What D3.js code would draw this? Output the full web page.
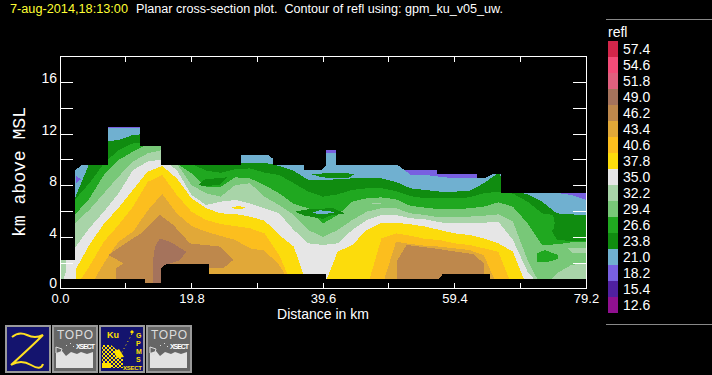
<!DOCTYPE html>
<html><head><meta charset="utf-8">
<script src="https://cdn.jsdelivr.net/npm/d3@7/dist/d3.min.js"></script>
<style>html,body{margin:0;padding:0;background:#000;overflow:hidden}svg{display:block}text{font-family:"Liberation Sans",Arial,sans-serif}</style>
</head><body><svg id="c" width="712" height="375"></svg>
<script>
// ---- Data: reflectivity contour tops (km) at regular stations along the section
const stationStepKm = 2.2;
const top_21_0 = [9,9.5,9.6,12.6,12.6,12.6,12.6,10,9.6,9.6,9.6,9.6,10.5,10.5,10.5,9.6,9.6,9.6,10.4,10.4,9.6,9.6,9.6,9.6,8.74,8.74,8.6,8.47,8.47,8.47,9,7.5,7.35,7.35,7.35,7.19,6.81];
const top_23_8 = [5,6.9,9.6,11.3,11.42,11.81,11.9,10,9.6,9.6,9.6,9.6,9.6,9.68,9.68,9.42,9.05,8.35,8.35,8.4,8.47,8.53,8.47,8.2,7.7,7.58,7.45,7.45,7.5,8.09,8.9,7.5,7.24,6.68,5.78,5.7,5.65];
const top_26_6 = [4,6.8,8.09,9.6,10.65,11.17,11.3,9.6,9.6,9.6,9.06,8.9,9.17,9.24,8.91,8.73,8.1,7.45,7.06,7.24,7.58,7.71,7.71,7.5,7.1,6.94,6.94,6.94,7.01,7.32,7.45,7.3,6.68,5.78,3.75,3.65,3.65];
const top_29_4 = [3,5.65,6.9,8.73,9.88,10.53,11.1,11.1,9.6,8.86,7.83,7.83,8.55,8.47,7.96,7.32,6.5,6.17,5.01,5.65,6.68,6.94,7.01,6.86,6.35,6.22,6.09,6.09,6.17,6.29,6.63,6.29,5.01,3.34,3.4,3.55,3.55];
const top_32_2 = [2.5,5.01,6.04,7.32,8.6,9.76,10.4,10.65,9.6,7.96,7.32,7.06,7.96,8.09,7.06,6.42,5.65,4.5,3.95,4.5,5.27,5.91,6.17,6.17,5.78,5.65,5.47,5.47,5.53,5.6,5.7,5.14,2.19,0,1.17,1.81,1.94];
const top_35_0 = [0,3.09,4.63,5.91,7.3,9.12,9.76,9.94,9.1,7.19,6.42,6.68,6.81,6.55,6.17,5.78,4.5,3.47,3.35,3.47,4.5,5.27,5.65,5.65,5.4,5.32,5.09,5.01,5.01,5.06,5.14,3.73,1.29,0,0,0,0];
const top_37_8 = [0,1.3,3.35,4.96,6.2,7.6,8.99,9.42,8.47,6.94,6.17,5.78,5.73,5.53,5.22,4.12,3.22,0,0,2.83,3.35,4.5,5.06,5.06,4.94,4.76,4.5,4.24,4.12,3.86,3.47,2.83,0,0,0,0,0];
const top_40_6 = [0,0,1.68,3.6,4.88,6.3,8.2,8.73,7.19,5.9,5.27,4.96,4.8,4.63,4.24,2.58,0,0,0,0,0,0,3.86,4.24,4.06,3.81,3.73,3.47,3.35,3.09,2.83,0,0,0,0,0,0];
const top_43_4 = [0,0,0,1.94,3.6,4.37,6.0,7.27,5.78,4.8,4.37,4.04,3.73,3.09,2.91,1.81,0,0,0,0,0,0,0,3.6,3.42,3.29,3.22,3.09,2.96,2.58,0,0,0,0,0,0,0];
// closed cells as [km, km above MSL]
const cell_18_2 = [
 [[51.93,0],[51.93,10],[62.77,10],[62.77,0]],
 [[74.96,0],[74.96,8],[79.2,8],[79.2,0]]];
const cell_46_2 = [
 [[7.28,2.58],[9.53,1.94],[8.43,1.55],[8.43,0],[22.43,0],[22.43,1.55],[24.59,1.55],[26.09,2.19],[24.08,3.22],[19.57,3.47],[17.06,4.88],[15.05,5.65],[12.54,4.37],[9.53,3.35]],
 [[50.68,0],[50.68,2.06],[52.19,3.35],[56.2,3.09],[62.2,2.65],[63.8,1.94],[63.8,0]]];
const cell_49_0 = [[[13.95,0],[13.95,1.94],[14.3,3.22],[15.05,3.86],[16.56,3.6],[19,2.83],[18.06,2.19],[15.9,1.81],[15.2,0]]];
const pockets = [
 ["35.0",[[0.9,0],[0.9,2.19],[2.4,2.19],[2.4,0]]],
 ["37.8",[[25.59,6.2],[26.84,6.35],[28.1,6.2],[26.84,6.1]]],
 ["23.8",[[35.37,5.91],[37.63,6.12],[41.14,6.17],[42.9,5.78],[40.64,5.6],[39.64,5.35],[36.88,5.6]]],
 ["21.0",[[38.03,5.83],[39.14,6.01],[40.64,5.96],[41.4,5.83],[39.14,5.7]]],
 ["23.8",[[37.88,8.78],[40.9,8.91],[42.65,8.91],[44.25,8.78],[43.4,8.47],[40.64,8.47],[39.14,8.6]]],
 ["23.8",[[20.8,7.96],[21.8,8.4],[25.1,8.55],[24.1,7.96],[21.6,7.88]]],
 ["32.2",[[47,6.51],[48.3,6.51],[48.3,6.59],[47,6.59]]],
 ["26.6",[[72.55,5.78],[74.26,5.65],[74.5,5.01],[74.26,4.5],[72.25,3.85],[71.5,4.2]]],
 ["26.6",[[71.75,2.06],[71.85,2.71],[73,2.96],[75,2.58],[75,2.27],[73.5,2.06]]],
 ["32.2",[[76.4,3.09],[79.2,3.14],[79.2,2.7],[77.3,2.7]]],
 ["18.2",[[2.41,8.65],[3.16,8.4],[2.41,8.1]]],
 ["18.2",[[7.23,12.33],[12.04,12.33],[12.04,12.6],[7.23,12.6]]],
 ["18.2",[[27.2,10.33],[28.3,10.33],[28.3,10.6],[27.2,10.6]]],
 ["18.2",[[40.04,10.4],[41.55,10.4],[41.55,10.8],[40.04,10.8]]]
];
const echoTop = [[0,2.19],[2.33,2.19],[2.33,9.12],[3.31,9.5],[7.23,9.5],[7.23,12.42],[12.04,12.42],[12.04,10.96],[15.2,10.96],[15.2,9.5],[27.25,9.5],[27.25,10.27],[32.06,10.27],[32.06,9.5],[36.73,9.5],[36.73,9.12],[39.44,9.12],[40.04,9.5],[40.04,10.65],[41.55,10.65],[41.55,9.5],[51.93,9.5],[51.93,9.12],[56.75,9.12],[56.75,8.81],[66.38,8.81],[66.38,7.35],[79.2,7.35]];
const ground = [[0,0.73],[12.8,0.73],[12.8,0.42],[15.2,0.42],[15.2,1.5],[15.96,1.88],[22.43,1.88],[22.43,1.12],[40.04,1.12],[40.04,0.73],[57.05,0.73],[57.65,1.12],[64.73,1.12],[64.73,0.73],[79.2,0.73]];
const legendLabels = ["57.4","54.6","51.8","49.0","46.2","43.4","40.6","37.8","35.0","32.2","29.4","26.6","23.8","21.0","18.2","15.4","12.6"];
const legendColors = ["#d3264a","#f34c78","#e0607e","#a5735c","#be884c","#e1a838","#fcbe1e","#fcdc0c","#e6e6e6","#a8d4a8","#78c878","#20a820","#108c10","#70b0d0","#7860e0","#5020a0","#901090"];
const xMinorTicks = [9.9,19.8,29.7,39.6,49.5,59.4,69.3];
const xLabels = ["0.0","19.8","39.6","59.4","79.2"];
const yMinorTicks = [2,4,6,8,10,12,14,16];
const yLabels = [0,4,8,12,16];

const color = Object.fromEntries(legendLabels.map((l,i)=>[l,legendColors[i]]));
const x = d3.scaleLinear().domain([0,79.2]).range([60,586]);
const y = d3.scaleLinear().domain([0,18.06]).range([289,56]);
const h = v => (v*13+0.5)/12.9;  // heights above were read at 13 px/km off the plot

const svg = d3.select("#c");
svg.append("rect").attr("width",712).attr("height",375).attr("fill","#000");
const plot = svg.append("g").attr("shape-rendering","crispEdges");
const poly = d3.line().x(d=>x(d[0])).y(d=>y(h(d[1])));
const drawCell = (pts,c)=>plot.append("path").attr("d",poly(pts)+"Z").attr("fill",c);
const band = d3.area().x((d,i)=>x(i*stationStepKm)).y0(y(0)).y1(d=>y(h(d)));
const bands = [["21.0",top_21_0],["23.8",top_23_8],["26.6",top_26_6],["29.4",top_29_4],["32.2",top_32_2],["35.0",top_35_0],["37.8",top_37_8],["40.6",top_40_6],["43.4",top_43_4]];

cell_18_2.forEach(p=>drawCell(p,color["18.2"]));
bands.forEach(([k,t])=>plot.append("path").attr("d",band(t)).attr("fill",color[k]));
cell_46_2.forEach(p=>drawCell(p,color["46.2"]));
cell_49_0.forEach(p=>drawCell(p,color["49.0"]));
pockets.forEach(([k,p])=>drawCell(p,color[k]));
// everything above the echo top and below the surface is empty
drawCell([...echoTop,[79.2,19],[0,19]],"#000");
drawCell([...ground,[79.2,-2],[0,-2]],"#000");

// ---- axes
const ax = svg.append("g").attr("stroke","#fff").attr("shape-rendering","crispEdges").attr("fill","none");
ax.append("rect").attr("x",60.5).attr("y",56.5).attr("width",526).attr("height",232);
const px = v => Math.floor(x(v))+0.5, py = v => Math.floor(y(v))+0.5;
xMinorTicks.forEach(v=>{
  ax.append("line").attr("x1",px(v)).attr("x2",px(v)).attr("y1",56).attr("y2",62);
  ax.append("line").attr("x1",px(v)).attr("x2",px(v)).attr("y1",283).attr("y2",288);
});
yMinorTicks.forEach(v=>{
  ax.append("line").attr("x1",60).attr("x2",73).attr("y1",py(v)).attr("y2",py(v));
  ax.append("line").attr("x1",573).attr("x2",586).attr("y1",py(v)).attr("y2",py(v));
});
const t = (s,xx,yy,o={})=>svg.append("text").text(s).attr("x",xx).attr("y",yy).attr("fill",o.fill||"#fff")
  .attr("font-size",o.size||13).attr("text-anchor",o.anchor||"start");
xLabels.forEach(l=>t(l,x(+l)+0.5,303,{anchor:"middle"}));
yLabels.forEach(v=>t(String(v),57,v===0?288:py(v)+0.5,{anchor:"end",size:14}));
t("Distance in km",323,319,{anchor:"middle",size:14});
svg.append("text").text("km above MSL").attr("transform","translate(25,172) rotate(-90)")
  .attr("text-anchor","middle").attr("fill","#fff").attr("font-size",19)
  .attr("textLength",130).attr("lengthAdjust","spacingAndGlyphs")
  .style("font-family","'Liberation Mono',monospace");
t("7-aug-2014,18:13:00",10,13,{fill:"#ffff33",size:12}).attr("textLength",118).attr("lengthAdjust","spacingAndGlyphs");
t("Planar cross-section plot.\u00a0\u00a0Contour of refl using: gpm_ku_v05_uw.",136,13,{size:12}).attr("textLength",367).attr("lengthAdjust","spacingAndGlyphs");

// ---- legend
svg.append("line").attr("x1",606).attr("x2",712).attr("y1",19.5).attr("y2",19.5).attr("stroke","#888");
svg.append("line").attr("x1",606).attr("x2",712).attr("y1",324.5).attr("y2",324.5).attr("stroke","#888");
t("refl",608,37,{size:14});
legendLabels.forEach((l,i)=>{
  svg.append("rect").attr("x",608).attr("y",41+16*i).attr("width",10).attr("height",16).attr("fill",legendColors[i]);
  t(l,623,54+16*i,{size:14});
});

// ---- tool buttons
const btn = (bx,fill)=>{const g=svg.append("g").attr("transform",`translate(${bx},325)`);
  g.append("rect").attr("x",1).attr("y",1).attr("width",44).attr("height",46).attr("fill",fill).attr("stroke","#9a9a9a").attr("stroke-width",2);return g;};
const topo = bx=>{const g=btn(bx,"#666");
  g.append("path").attr("d","M4 43V28L10 26 14 31 19 27 25 29 29 27 35 29 41 27V43Z").attr("fill","#e2e2e2");
  g.append("text").text("TOPO").attr("x",5).attr("y",14).attr("fill","#ddd").attr("font-size",12).attr("textLength",36);
  g.append("text").text("XSECT").attr("x",24).attr("y",24).attr("fill","#fff").attr("font-size",7).attr("font-weight","bold").attr("textLength",19);
  g.append("path").attr("d","M4 22l6 2-2 6-4-2zM14 20l1 1M18 18l1 1M21 21l1 1").attr("stroke","#ddd").attr("fill","none");};
const z = btn(5,"#14146e");
z.append("path").attr("d","M7 12Q14 6 22 10T38 10Q26 22 6 40Q16 34 26 40T38 39").attr("fill","none").attr("stroke","#ffe020").attr("stroke-width",2);
topo(52);
const gpm = btn(99,"#14146e");
const defs = svg.append("defs");
defs.append("pattern").attr("id","dith").attr("width",4).attr("height",4).attr("patternUnits","userSpaceOnUse")
  .call(p=>{p.append("rect").attr("width",2).attr("height",2).attr("fill","#ffe000");p.append("rect").attr("x",2).attr("y",2).attr("width",2).attr("height",2).attr("fill","#ffe000");});
gpm.append("path").attr("d","M3 20H12L24 30 24 43H3Z").attr("fill","url(#dith)");
gpm.append("path").attr("d","M3 38H12V43H3ZM15 27L20 24 25 32 18 33Z").attr("fill","#ffe000");
gpm.append("path").attr("d","M21 31L34 7").attr("stroke","#ffe000").attr("stroke-dasharray","1 3").attr("fill","none");
gpm.append("path").attr("d","M33 5l2 2-2 2-2-2z").attr("fill","#ffe000");
gpm.append("text").text("Ku").attr("x",8).attr("y",13).attr("fill","#ffe000").attr("font-size",9).attr("font-weight","bold");
["G","P","M","S"].forEach((c,i)=>gpm.append("text").text(c).attr("x",37).attr("y",[13,21,29,37][i]).attr("fill","#ffe000").attr("font-size",7).attr("font-weight","bold"));
gpm.append("text").text("XSECT").attr("x",24).attr("y",45).attr("fill","#ffe000").attr("font-size",6).attr("font-weight","bold").attr("textLength",19);
topo(146);
</script></body></html>
